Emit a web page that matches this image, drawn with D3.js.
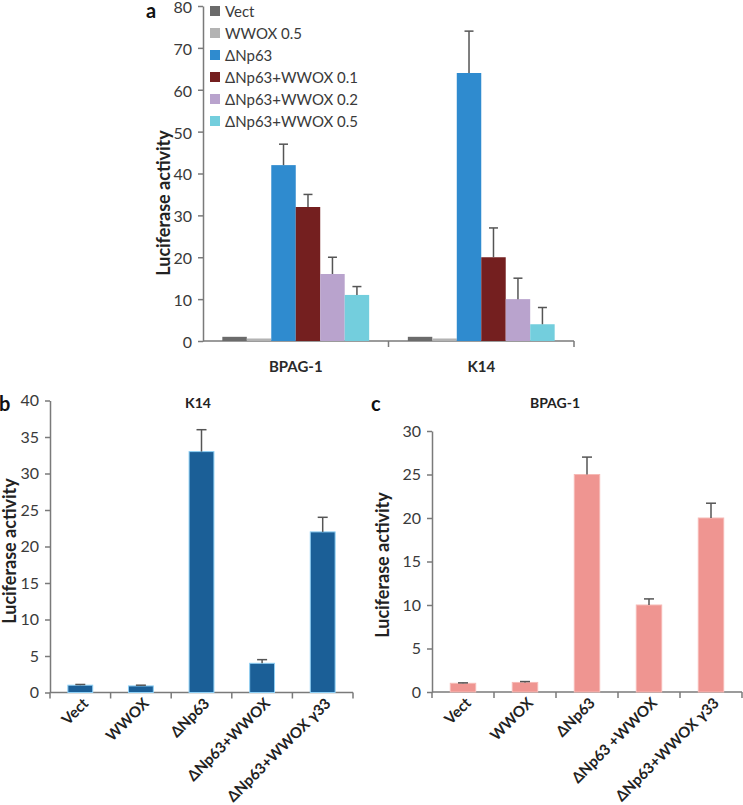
<!DOCTYPE html>
<html><head><meta charset="utf-8">
<script src="https://cdn.jsdelivr.net/npm/d3@7"></script>
<style>body{margin:0;background:#fff}svg{display:block}text{font-family:Lato,"Liberation Sans",sans-serif}</style>
</head><body>
<script>
// Panel a data
const groupsA = ["BPAG-1", "K14"];
const seriesA = ["Vect", "WWOX 0.5", "ΔNp63", "ΔNp63+WWOX 0.1", "ΔNp63+WWOX 0.2", "ΔNp63+WWOX 0.5"];
const colorsA = ["#6b6b6b", "#b3b3b3", "#2f8bcf", "#741f1f", "#b9a3cd", "#73cedd"];
const valuesBPAG = [1, 0.6, 42, 32, 16, 11];
const errorsBPAG = [0, 0, 5, 3, 4, 2];
const valuesK14 = [1, 0.6, 64, 20, 10, 4];
const errorsK14 = [0, 0, 10, 7, 5, 4];
const ticksA = [0, 10, 20, 30, 40, 50, 60, 70, 80];

// Panel b data
const catsB = ["Vect", "WWOX", "ΔNp63", "ΔNp63+WWOX", "ΔNp63+WWOX γ33"];
const valuesB = [1.0, 0.9, 33, 4, 22];
const errorsB = [0.1, 0.1, 3, 0.5, 2];
const ticksB = [0, 5, 10, 15, 20, 25, 30, 35, 40];

// Panel c data
const catsC = ["Vect", "WWOX", "ΔNp63", "ΔNp63 +WWOX", "ΔNp63+WWOX γ33"];
const valuesC = [1.0, 1.1, 25, 10, 20];
const errorsC = [0.05, 0.1, 2, 0.7, 1.7];
const ticksC = [0, 5, 10, 15, 20, 25, 30];

const svg = d3.select("body").append("svg").attr("width", 743).attr("height", 805);
svg.append("rect").attr("width", 743).attr("height", 805).attr("fill", "#fff");

const axisColor = "#7a7a7a", textColor = "#3a3a3a", errColor = "#555";

function styleAxis(g) {
  g.selectAll("path,line").attr("stroke", axisColor).attr("stroke-width", 1.5);
  g.selectAll("text").attr("fill", textColor).style("font-size", "16px");
}

// ---------- Panel a ----------
{
  const x0 = 203, x1 = 574, yTop = 6, yBot = 341;
  const y = d3.scaleLinear().domain([0, 80]).range([yBot, yTop]);
  const xg = d3.scaleBand().domain(groupsA).range([x0, x1]).paddingInner(0).paddingOuter(0);
  const xs = d3.scaleBand().domain(seriesA).range([0, xg.bandwidth()]).paddingOuter(0.79).paddingInner(0);
  const g = svg.append("g");
  const ya = g.append("g").attr("transform", `translate(${x0},0)`)
    .call(d3.axisLeft(y).tickValues(ticksA).tickSize(5).tickPadding(6).tickSizeOuter(0));
  styleAxis(ya);
  ya.selectAll(".tick text").attr("dy", "0.4em");
  const xa = g.append("g").attr("transform", `translate(0,${yBot})`);
  xa.append("line").attr("x1", x0).attr("x2", x1).attr("stroke", axisColor).attr("stroke-width", 1.5);
  [x0 + xg.bandwidth(), x1].forEach(v => xa.append("line").attr("x1", v).attr("x2", v).attr("y1", 0).attr("y2", 6).attr("stroke", axisColor).attr("stroke-width", 1.5));
  groupsA.forEach(gr => xa.append("text").attr("x", xg(gr) + xg.bandwidth() / 2).attr("y", 31)
    .attr("text-anchor", "middle").attr("font-weight", "bold").attr("fill", "#2a2a2a").style("font-size", "15px").text(gr));
  const data = [[valuesBPAG, errorsBPAG], [valuesK14, errorsK14]];
  data.forEach(([vals, errs], gi) => {
    vals.forEach((v, si) => {
      const bx = xg(groupsA[gi]) + xs(seriesA[si]);
      g.append("rect").attr("x", bx).attr("width", xs.bandwidth()).attr("y", y(v)).attr("height", yBot - y(v)).attr("fill", colorsA[si]);
      if (errs[si] > 0) {
        const cx = bx + xs.bandwidth() / 2;
        g.append("line").attr("x1", cx).attr("x2", cx).attr("y1", y(v)).attr("y2", y(v + errs[si])).attr("stroke", errColor).attr("stroke-width", 1.5);
        g.append("line").attr("x1", cx - 4.5).attr("x2", cx + 4.5).attr("y1", y(v + errs[si])).attr("y2", y(v + errs[si])).attr("stroke", errColor).attr("stroke-width", 1.5);
      }
    });
  });
  // legend
  seriesA.forEach((s, i) => {
    const cy = 11 + i * 22;
    g.append("rect").attr("x", 210).attr("y", cy - 5).attr("width", 10).attr("height", 10).attr("fill", colorsA[i]);
    g.append("text").attr("x", 225).attr("y", cy + 5.5).attr("fill", textColor).style("font-size", "15px").text(s);
  });
  g.append("text").attr("x", 146).attr("y", 18).attr("font-weight", "bold").style("font-size", "20px").attr("fill", "#111").text("a");
  g.append("text").attr("transform", `translate(170,203) rotate(-90)`).attr("text-anchor", "middle")
    .attr("font-weight", "bold").style("font-size", "18px").attr("fill", "#222").text("Luciferase activity");
}

// ---------- Panels b & c ----------
function smallPanel(opts) {
  const { x0, x1, yTop, yBot, max, ticks, cats, vals, errs, fill, stroke, title, letter, letterX, titleX, yTitleX, yTitleY } = opts;
  const y = d3.scaleLinear().domain([0, max]).range([yBot, yTop]);
  const x = d3.scaleBand().domain(cats).range([x0, x1]).paddingInner(0.59).paddingOuter(0.295);
  const xt = d3.scaleBand().domain(cats).range([x0, x1]);
  const g = svg.append("g");
  const ya = g.append("g").attr("transform", `translate(${x0},0)`)
    .call(d3.axisLeft(y).tickValues(ticks).tickSize(5).tickPadding(6).tickSizeOuter(0));
  styleAxis(ya);
  const xa = g.append("g").attr("transform", `translate(0,${yBot})`);
  xa.append("line").attr("x1", x0).attr("x2", x1).attr("stroke", axisColor).attr("stroke-width", 1.5);
  cats.forEach(c => xa.append("line").attr("x1", xt(c) + xt.bandwidth()).attr("x2", xt(c) + xt.bandwidth()).attr("y1", 0).attr("y2", 6).attr("stroke", axisColor).attr("stroke-width", 1.5));
  xa.append("line").attr("x1", x0).attr("x2", x0).attr("y1", 0).attr("y2", 6).attr("stroke", axisColor).attr("stroke-width", 1.5);
  cats.forEach(c => {
    const cx = xt(c) + xt.bandwidth() / 2 + 9;
    xa.append("text").attr("transform", `translate(${cx},12) rotate(-45)`).attr("text-anchor", "end")
      .attr("font-weight", "bold").attr("fill", "#222").style("font-size", "15px").text(c);
  });
  vals.forEach((v, i) => {
    const bx = x(cats[i]);
    g.append("rect").attr("x", bx).attr("width", x.bandwidth()).attr("y", y(v)).attr("height", yBot - y(v))
      .attr("fill", fill).attr("stroke", stroke).attr("stroke-width", 1);
    const cx = bx + x.bandwidth() / 2;
    g.append("line").attr("x1", cx).attr("x2", cx).attr("y1", y(v)).attr("y2", y(v + errs[i])).attr("stroke", errColor).attr("stroke-width", 1.5);
    g.append("line").attr("x1", cx - 5).attr("x2", cx + 5).attr("y1", y(v + errs[i])).attr("y2", y(v + errs[i])).attr("stroke", errColor).attr("stroke-width", 1.5);
  });
  g.append("text").attr("x", titleX).attr("y", 408).attr("text-anchor", "middle").attr("font-weight", "bold")
    .style("font-size", "14px").attr("fill", "#222").text(title);
  g.append("text").attr("x", letterX).attr("y", 411).attr("font-weight", "bold").style("font-size", "20px").attr("fill", "#111").text(letter);
  g.append("text").attr("transform", `translate(${yTitleX},${yTitleY}) rotate(-90)`).attr("text-anchor", "middle")
    .attr("font-weight", "bold").style("font-size", "18px").attr("fill", "#222").text("Luciferase activity");
}

smallPanel({ x0: 50, x1: 353, yTop: 400.5, yBot: 692.5, max: 40, ticks: ticksB, cats: catsB, vals: valuesB, errs: errorsB,
  fill: "#1b5f97", stroke: "#8fd0f5", title: "K14", letter: "b", letterX: -1, titleX: 198, yTitleX: 16, yTitleY: 551 });
smallPanel({ x0: 432, x1: 742, yTop: 431, yBot: 692, max: 30, ticks: ticksC, cats: catsC, vals: valuesC, errs: errorsC,
  fill: "#ef9591", stroke: "#f6b9b5", title: "BPAG-1", letter: "c", letterX: 371, titleX: 555, yTitleX: 389, yTitleY: 565 });
</script>
</body></html>
